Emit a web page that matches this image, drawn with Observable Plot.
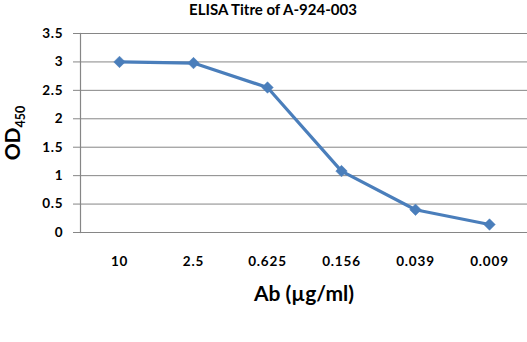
<!DOCTYPE html>
<html>
<head>
<meta charset="utf-8">
<script src="https://cdn.jsdelivr.net/npm/d3@7"></script>
<script src="https://cdn.jsdelivr.net/npm/@observablehq/plot@0.6"></script>
<style>
  html, body { margin: 0; padding: 0; background: #fff; }
  #chart svg { display: block; }
</style>
</head>
<body>
<div id="chart"></div>
<script>
const titleText = "ELISA Titre of A-924-003";
const concentrations = ["10", "2.5", "0.625", "0.156", "0.039", "0.009"];
const odValues = [3.0, 2.98, 2.55, 1.08, 0.4, 0.14];
const yTicks = [0, 0.5, 1, 1.5, 2, 2.5, 3, 3.5];
const yTickLabels = ["0", "0.5", "1", "1.5", "2", "2.5", "3", "3.5"];
const xLabel = "Ab (µg/ml)";

const data = concentrations.map((c, i) => ({conc: c, od: odValues[i]}));
const font = "Lato, 'Open Sans', sans-serif";

const chart = Plot.plot({
  width: 527,
  height: 342,
  marginTop: 33,
  marginBottom: 110,
  marginLeft: 80,
  marginRight: 0,
  style: {fontFamily: font, background: "#fff", color: "#000"},
  x: {type: "point", domain: concentrations, padding: 0.5},
  y: {domain: [0, 3.5]},
  marks: [
    Plot.ruleY(yTicks, {stroke: "#868686", strokeWidth: 1, insetLeft: -7}),
    Plot.frame({anchor: "left", stroke: "#868686", strokeWidth: 1.2}),
    Plot.axisY(yTicks, {tickSize: 0, tickPadding: 17, fontSize: 13.5, fontWeight: "bold", tickFormat: (d) => yTickLabels[yTicks.indexOf(d)], label: null, className: "ytick"}),
    Plot.axisX({tickSize: 0, tickPadding: 24, fontSize: 13.5, fontWeight: "bold", label: null, className: "xtick"}),
    Plot.line(data, {x: "conc", y: "od", stroke: "#4a7ebb", strokeWidth: 3.2}),
    Plot.dot(data, {x: "conc", y: "od", symbol: "square", rotate: 45, r: 4.6, fill: "#4a7ebb", stroke: "#4a7ebb", strokeWidth: 0.5}),
    Plot.text([xLabel], {frameAnchor: "bottom", dy: 68, fontSize: 21, fontWeight: "bold", text: d => d}),
    Plot.text([titleText], {frameAnchor: "top", lineAnchor: "top", dy: -29, dx: -31, fontSize: 15, fontWeight: "bold", text: d => d}),
    Plot.text(["OD"], {frameAnchor: "left", textAnchor: "middle", dx: -67, rotate: -90, fontSize: 21, fontWeight: "bold", text: d => d, className: "ylab"})
  ]
});

document.getElementById("chart").appendChild(chart);

// tick label spacing to mimic the reference's wide digits
d3.select(chart).selectAll(".xtick text, .ytick text").attr("letter-spacing", "0.8px");

// Add the "450" subscript to the y-axis label as a tspan
const ylab = d3.select(chart).select(".ylab text");
if (!ylab.empty()) {
  ylab.text(null);
  ylab.append("tspan").text("OD");
  ylab.append("tspan").attr("font-size", 12.5).attr("dy", "0.35em").text("450");
}
</script>
</body>
</html>
